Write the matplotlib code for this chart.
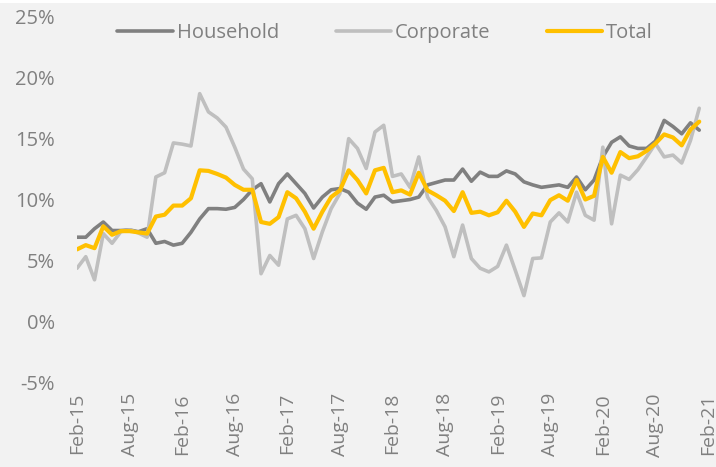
import matplotlib
matplotlib.use("Agg")
import matplotlib.pyplot as plt
from matplotlib.patches import Rectangle

tick_labels = ["Feb-15", "Aug-15", "Feb-16", "Aug-16", "Feb-17", "Aug-17", "Feb-18",
               "Aug-18", "Feb-19", "Aug-19", "Feb-20", "Aug-20", "Feb-21"]

household = [6.9, 6.9, 7.6, 8.15, 7.45, 7.45, 7.5, 7.35, 7.6, 6.4, 6.55, 6.25,
             6.4, 7.3, 8.4, 9.25, 9.25, 9.2, 9.35, 10.0, 10.8, 11.3, 9.8, 11.3,
             12.1, 11.3, 10.5, 9.3, 10.2, 10.8, 10.9, 10.6, 9.7, 9.2, 10.2, 10.35,
             9.8, 9.9, 10.0, 10.2, 11.2, 11.4, 11.6, 11.6, 12.5, 11.5, 12.25, 11.9,
             11.9, 12.35, 12.1, 11.45, 11.2, 11.0, 11.1, 11.2, 11.0, 11.85, 10.8, 11.6,
             13.5, 14.7, 15.15, 14.4, 14.2, 14.2, 14.8, 16.5, 16.0, 15.4, 16.3, 15.7]

corporate = [4.35, 5.3, 3.4, 7.2, 6.4, 7.35, 7.5, 7.25, 6.9, 11.85, 12.2, 14.65,
             14.55, 14.4, 18.7, 17.2, 16.7, 15.95, 14.3, 12.5, 11.7, 3.9, 5.4, 4.6,
             8.4, 8.7, 7.6, 5.15, 7.35, 9.25, 10.5, 15.0, 14.2, 12.55, 15.55, 16.1,
             11.9, 12.1, 11.0, 13.5, 10.2, 9.1, 7.75, 5.3, 7.9, 5.15, 4.35, 4.05,
             4.5, 6.25, 4.2, 2.1, 5.15, 5.2, 8.15, 8.9, 8.15, 10.6, 8.7, 8.3,
             14.3, 8.0, 12.0, 11.65, 12.45, 13.5, 14.6, 13.5, 13.65, 13.0, 14.85, 17.5]

total = [5.9, 6.25, 6.0, 7.8, 7.1, 7.4, 7.4, 7.3, 7.2, 8.6, 8.75, 9.5,
         9.5, 10.1, 12.4, 12.35, 12.1, 11.8, 11.2, 10.8, 10.8, 8.15, 8.0, 8.55,
         10.6, 10.1, 9.0, 7.6, 9.0, 10.2, 10.75, 12.4, 11.6, 10.5, 12.4, 12.6,
         10.6, 10.75, 10.4, 12.2, 10.75, 10.35, 9.9, 9.05, 10.6, 8.9, 9.0, 8.7,
         8.95, 9.9, 9.0, 7.75, 8.85, 8.7, 9.95, 10.35, 9.9, 11.6, 10.0, 10.3,
         13.5, 12.2, 13.9, 13.4, 13.55, 14.0, 14.6, 15.35, 15.1, 14.45, 15.75, 16.4]

series_names = ["Household", "Corporate", "Total"]
colors = ["#808080", "#bfbfbf", "#ffc000"]
widths = [2.6, 2.6, 3.0]

plt.rcParams['font.family'] = ['Open Sans', 'DejaVu Sans']
txt = "#808080"
bg = "#f2f2f2"

fig = plt.figure(figsize=(7.16, 4.67), dpi=100, facecolor=bg)
fig.patches.append(Rectangle((0, 1 - 3 / 467), 1, 3 / 467, transform=fig.transFigure,
                             facecolor="white", edgecolor="none", zorder=0))
ax = fig.add_axes([77 / 716, 1 - 382 / 467, 631 / 716, 365 / 467])
ax.set_facecolor(bg)

x = list(range(len(total)))
for vals, name, c, lw in zip([household, corporate, total], series_names, colors, widths):
    ax.plot(x, vals, color=c, lw=lw, label=name, solid_joinstyle="round", solid_capstyle="round")

ax.set_xlim(0, 72)
ax.set_ylim(-5, 25)
ax.set_yticks(range(-5, 26, 5))
ax.set_yticklabels([f"{v}%" for v in range(-5, 26, 5)])
ax.set_xticks(range(0, 73, 6))
ax.set_xticklabels(tick_labels, rotation=90)
ax.tick_params(axis="y", length=0, pad=16, labelsize=14.5, labelcolor=txt)
ax.tick_params(axis="x", length=0, pad=8, labelsize=14, labelcolor=txt)
for s in ax.spines.values():
    s.set_visible(False)

leg = fig.legend(loc="center", bbox_to_anchor=(0.538, 1 - 33 / 467), ncol=3, frameon=False,
                 fontsize=14.5, handlelength=2.75, handletextpad=0.2, columnspacing=2.8,
                 labelcolor=txt)
fig.savefig("out.png", dpi=100, facecolor=bg)
